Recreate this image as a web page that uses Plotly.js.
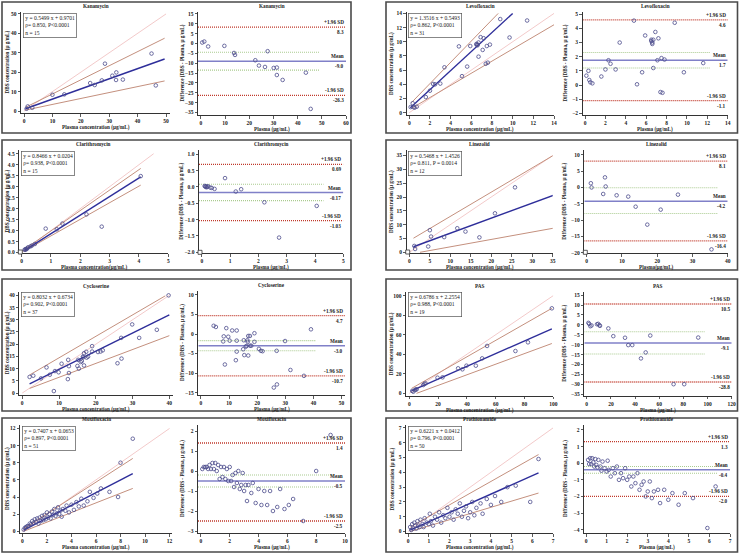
<!DOCTYPE html>
<html><head><meta charset="utf-8">
<script src="https://cdn.plot.ly/plotly-3.0.1.min.js"></script>
<style>html,body{margin:0;padding:0;background:#fff}#chart{width:739px;height:555px}</style>
</head><body><div id="chart"></div>
<script>
// ---------------- DATA ----------------
// Kanamycin
const kanaPlasma = [0.9,1.3,2.9,10.0,14.2,23.3,24.9,27.4,28.5,31.1,32.5,32.4,34.8,44.9,46.4];
const kanaDBS    = [1.2,2.4,1.7,8.4,8.6,14.4,13.4,15.8,24.4,18.2,19.9,16.0,16.2,29.6,13.2];
const kanaFitX = [0.5,49.5], kanaFitY = [1.2,26.8], kanaHi = [1.9,37.5], kanaLo = [0.5,15.5], kanaId = [0,50];
const kanaEq = ["y = 0.5499 x + 0.9701","ρ= 0.850, P&lt;0.0001","n = 15"];
const kanaBAx = [0.55,1.4,3.0,9.7,13.7,14.1,22.5,27.6,24.0,26.5,30.1,31.4,31.4,33.8,43.4,45.4];
const kanaBAy = [0.5,1.0,-1.5,-1.2,-4.8,-5.8,-8.5,-3.9,-11.2,-11.9,-12.4,-12.2,-16.0,-18.5,-14.8,-33.2];
const kanaStats = [8.3,-9.0,-26.3,-4.4,-13.5];
const kanaStatLbl = ["8.3","-9.0","-26.3"];

// Levofloxacin
const levoPlasma = [0.13,0.33,0.42,0.52,0.72,1.6,2.0,2.3,2.5,3.0,3.4,4.8,5.1,5.6,5.9,6.5,6.6,6.6,6.7,6.7,6.9,7.1,7.2,7.4,7.6,7.5,7.8,8.8,9.7,11.4,6.5];
const levoDBS    = [0.79,1.33,0.77,0.71,0.84,2.2,3.1,4.05,4.0,4.1,6.4,9.35,5.15,6.5,9.4,9.7,9.6,9.5,9.9,7.9,10.65,8.85,10.5,6.9,7.05,9.4,9.6,13.2,10.6,13.0,9.6];
const levoFitX = [0.1,10.0], levoFitY = [0.7,14.0];
const levoHiX = [0.2,8.6], levoHi = [1.4,14.0], levoLoX = [0.2,14.0], levoLo = [0.6,12.4], levoId = [0,14];
const levoEq = ["y = 1.3516 x + 0.5493","ρ= 0.862, P&lt;0.0001","n = 31"];
const levoBAx = [0.13,0.33,0.42,0.52,0.72,1.6,2.0,2.3,2.5,3.0,3.4,4.8,5.1,5.6,5.9,6.5,6.6,6.6,6.7,6.7,6.9,7.1,7.2,7.4,7.6,7.5,7.8,8.8,9.7,11.6,6.5];
const levoBAy = [0.66,1.0,0.35,0.19,0.12,0.6,1.1,1.75,1.5,1.1,3.0,4.55,0.05,0.9,3.5,3.2,3.0,2.9,3.2,1.2,3.75,1.75,3.3,-0.5,-0.55,1.9,1.8,4.4,0.9,1.55,3.1];
const levoStats = [4.6,1.75,-1.1,2.3,1.2];
const levoStatLbl = ["4.6","1.7","-1.1"];

// Clarithromycin
const clarPlasma = [0.1,0.12,0.14,0.16,0.19,0.22,0.3,0.45,0.82,1.2,1.39,2.21,2.73,4.06,0.35];
const clarDBS    = [0.13,0.13,0.16,0.15,0.19,0.24,0.28,0.39,1.09,1.06,1.32,1.74,1.18,3.48,0.32];
const clarFitX = [0.1,4.06], clarFitY = [0.1,3.45], clarHi = [0.15,3.83], clarLo = [0.08,3.07], clarId = [0,4.5];
const clarEq = ["y = 0.8466 x + 0.0204","ρ= 0.938, P&lt;0.0001","n = 15"];
const clarBAx = [0.1,0.12,0.14,0.16,0.19,0.22,0.3,0.45,0.82,1.2,1.39,2.21,2.73,4.06,0.35];
const clarBAy = [0.03,0.01,0.02,-0.01,0.0,0.02,-0.02,-0.06,0.27,-0.14,-0.07,-0.47,-1.55,-0.58,-0.03];
const clarStats = [0.69,-0.17,-1.03,0.08,-0.42];
const clarStatLbl = ["0.69","-0.17","-1.03"];

// Linezolid
const linzPlasma = [1.2,1.4,4.6,5.0,5.3,8.5,11.7,13.7,17.1,20.9,25.8,35.1];
const linzDBS    = [2.3,1.2,2.1,8.0,5.7,5.5,8.7,7.5,5.4,14.1,23.5,15.6];
const linzFitX = [1.0,35.1], linzFitY = [2.0,20.6];
const linzHiX = [1.0,35.1], linzHi = [5.1,35.0], linzLoX = [2.6,35.1], linzLo = [0.0,8.7], linzId = [0,35];
const linzEq = ["y = 0.5468 x + 1.4526","ρ= 0.811, P = 0.0014","n = 12"];
const linzBAx = [1.2,1.4,4.7,5.2,5.4,8.5,11.8,13.9,17.2,21.0,25.9,35.4];
const linzBAy = [1.3,0.0,-2.0,3.1,0.3,-2.4,-2.8,-5.9,-11.4,-6.8,-2.2,-19.0];
const linzStats = [8.1,-4.2,-16.4,-0.1,-8.0];
const linzStatLbl = ["8.1","-4.2","-16.4"];

// Cycloserine
const cycPlasma = [2.0,3.0,6.6,7.5,8.9,5.1,9.9,10.7,12.5,12.7,12.7,12.4,8.6,15.0,15.4,15.9,16.2,16.5,16.6,16.8,16.8,17.4,17.5,17.9,19.0,19.0,20.6,21.3,21.9,26.9,29.9,31.8,36.6,39.8,25.9,27.0,15.2];
const cycDBS    = [6.6,7.1,10.5,7.5,9.0,6.0,8.5,12.0,13.6,11.0,8.2,5.7,0.8,11.1,10.0,12.7,13.1,14.9,14.6,11.3,16.3,16.9,14.5,14.9,17.0,19.2,16.8,17.0,17.5,22.6,28.1,22.6,25.9,40.0,12.2,14.1,13.6];
const cycFitX = [2.0,40.0], cycFitY = [3.8,32.0];
const cycHiX = [2.0,38.9], cycHi = [7.4,39.8], cycLoX = [2.0,40.0], cycLo = [1.9,23.5], cycId = [0,40];
const cycEq = ["y = 0.8032 x + 0.6734","ρ= 0.902, P&lt;0.0001","n = 37"];
const cycBAx = [4.5,5.3,9.0,8.1,9.7,7.9,10.2,11.1,12.7,12.7,12.7,12.4,8.5,15.0,15.4,15.9,16.2,16.5,16.6,16.8,16.8,17.4,17.5,17.9,19.0,19.0,20.6,21.3,21.9,26.9,29.9,31.8,36.6,39.1,25.9,27.0,15.2];
const cycBAy = [2.1,1.8,1.5,-0.6,-0.7,-1.9,-1.7,0.9,0.9,-1.7,-4.5,-6.7,-7.8,-3.9,-5.4,-3.2,-3.1,-1.6,-2.0,-5.5,-0.5,-0.5,-3.0,-3.0,-2.0,0.2,-3.8,-4.3,-4.4,-4.3,-1.8,-9.2,-10.7,1.2,-13.7,-12.9,-1.6];
const cycStats = [4.7,-3.0,-10.7,-1.7,-4.3];
const cycStatLbl = ["4.7","-3.0","-10.7"];

// PAS
const pasPlasma = [2.0,2.8,3.9,4.5,5.1,9.7,10.5,11.3,19.6,23.1,33.9,36.9,39.7,46.2,50.6,54.0,73.7,82.4,99.0];
const pasDBS    = [2.5,1.7,3.4,4.0,4.1,8.5,9.8,10.2,16.0,16.4,25.6,24.6,28.3,28.3,35.8,48.5,43.3,52.2,87.0];
const pasFitX = [1.5,99.0], pasFitY = [2.5,66.0];
const pasHiX = [1.6,99.0], pasHi = [5.1,87.0], pasLoX = [5.0,99.0], pasLo = [0.0,51.0], pasId = [0,100];
const pasEq = ["y = 0.6786 x + 2.2554","ρ= 0.988, P&lt;0.0001","n = 19"];
const pasBAx = [1.4,2.0,3.0,4.0,8.5,9.5,10.5,11.0,17.9,22.0,31.7,34.4,37.7,44.9,48.8,52.6,71.9,80.7,92.3];
const pasBAy = [1.0,0.5,-0.7,-0.3,0.3,0.5,-0.2,-0.5,-1.8,-5.7,-6.5,-10.2,-10.2,-16.9,-13.9,-5.4,-29.9,-29.9,-6.4];
const pasStats = [10.5,-9.1,-28.8,-3.5,-14.7];
const pasStatLbl = ["10.5","-9.1","-28.8"];

// Moxifloxacin
const moxPlasma = [0.1,0.2,0.3,0.4,0.5,0.6,0.7,0.8,0.9,1.0,1.1,1.2,1.3,1.4,1.5,1.6,1.7,1.8,1.9,2.0,2.1,2.2,2.3,2.4,2.5,2.6,2.7,2.8,2.9,3.0,3.1,3.2,3.3,3.5,3.6,3.8,4.0,4.2,4.4,4.6,4.8,5.0,5.3,5.5,5.8,6.1,6.4,7.1,7.8,8.0,9.0];
const moxDBS    = [0.2,0.4,0.5,0.6,0.6,0.9,0.8,1.2,1.0,1.4,1.1,1.5,0.9,1.6,1.2,1.8,1.3,1.9,1.4,2.2,1.6,2.0,1.5,2.3,1.9,2.6,1.8,2.1,2.8,2.0,2.4,1.7,2.6,2.4,3.0,2.2,3.1,2.5,3.4,2.9,3.8,3.0,3.5,4.6,3.9,4.4,5.0,4.6,4.0,8.0,10.8];
const moxFitX = [0.1,9.0], moxFitY = [0.14,6.73];
const moxHiX = [0.1,9.0], moxHi = [0.3,8.5], moxLoX = [0.1,9.0], moxLo = [0.0,5.0], moxId = [0,12];
const moxEq = ["y = 0.7407 x + 0.0653","ρ= 0.897, P&lt;0.0001","n = 51"];
const moxBAx = [0.1,0.2,0.3,0.4,0.5,0.6,0.7,0.8,0.9,1.0,1.1,1.2,1.3,1.4,1.5,1.6,1.7,1.8,1.9,2.0,2.1,2.2,2.3,2.4,2.5,2.6,2.7,2.8,2.9,3.0,3.1,3.2,3.3,3.5,3.6,3.8,4.0,4.2,4.4,4.6,4.8,5.0,5.3,5.5,5.8,6.1,6.4,7.1,7.8,8.0,9.0];
const moxBAy = [0.1,0.2,0.2,0.2,0.1,0.3,0.1,0.4,0.1,0.4,0.0,0.3,-0.4,0.2,-0.3,0.2,-0.4,0.1,-0.5,0.2,-0.5,-0.2,-0.8,-0.1,-0.6,0.0,-0.9,-0.7,-0.1,-1.0,-0.7,-1.5,-0.7,-1.1,-0.6,-1.6,-0.9,-1.7,-1.0,-1.7,-1.0,-2.0,-1.8,-0.9,-1.9,-1.7,-1.4,-2.5,-3.8,0.0,1.8];
const moxStats = [1.4,-0.5,-2.5,-0.2,-0.8];
const moxStatLbl = ["1.4","-0.5","-2.5"];

// Prothionamide
const proPlasma = [0.1,0.15,0.2,0.25,0.3,0.35,0.4,0.45,0.5,0.55,0.6,0.7,0.75,0.8,0.9,1.0,1.05,1.1,1.2,1.3,1.4,1.5,1.6,1.7,1.8,1.9,2.0,2.1,2.2,2.3,2.4,2.5,2.6,2.7,2.8,2.9,3.0,3.1,3.2,3.3,3.5,3.6,3.8,4.0,4.2,4.5,4.8,5.2,5.9,6.3];
const proDBS    = [0.3,0.1,0.5,0.2,0.6,0.4,0.2,0.7,0.4,0.3,0.8,0.5,0.3,0.9,0.6,0.5,1.2,0.7,0.4,1.0,0.8,1.3,0.6,1.1,0.9,1.6,1.0,1.3,0.8,1.5,1.2,1.9,1.0,1.4,1.7,0.9,1.3,2.0,1.1,1.6,1.9,1.2,2.2,1.8,2.4,2.0,3.0,3.1,2.0,4.9];
const proFitX = [0.1,6.3], proFitY = [0.1,3.96];
const proHiX = [0.1,6.3], proHi = [0.3,5.2], proLoX = [0.1,6.3], proLo = [0.0,2.6], proId = [0,7];
const proEq = ["y = 0.6221 x + 0.0412","ρ= 0.796, P&lt;0.0001","n = 50"];
const proBAx = [0.1,0.15,0.2,0.25,0.3,0.35,0.4,0.45,0.5,0.55,0.6,0.7,0.75,0.8,0.9,1.0,1.05,1.1,1.2,1.3,1.4,1.5,1.6,1.7,1.8,1.9,2.0,2.1,2.2,2.3,2.4,2.5,2.6,2.7,2.8,2.9,3.0,3.1,3.2,3.3,3.5,3.6,3.8,4.0,4.2,4.5,4.8,5.2,5.9,6.3];
const proBAy = [0.2,-0.05,0.3,-0.05,0.3,0.05,-0.2,0.25,-0.1,-0.25,0.2,-0.2,-0.45,0.1,-0.3,-0.5,0.15,-0.4,-0.8,-0.3,-0.6,-0.2,-1.0,-0.6,-0.9,-0.3,-1.0,-0.8,-1.4,-0.8,-1.2,-0.6,-1.6,-1.3,-1.1,-2.0,-1.7,-1.1,-2.1,-1.7,-1.6,-2.4,-1.6,-2.2,-1.8,-2.5,-1.8,-2.1,-3.9,-1.4];
const proStats = [1.3,-0.4,-2.0,-0.2,-0.6];
const proStatLbl = ["1.3","-0.4","-2.0"];

// ---------------- LAYOUT / DRAW ----------------
const W = 739, H = 555;
const FONT = 'Liberation Serif, Times New Roman, serif';
const REGX = 'Plasma concentration (μg/mL)', REGY = 'DBS concentration (μ g/mL)';
const BAX = 'Plasma (μg/mL)', BAY = 'Difference (DBS - Plasma, μ g/mL)';

const panels = [
 {k:'reg', t:'Kanamycin', x:kanaPlasma, y:kanaDBS, fx:kanaFitX, fy:kanaFitY, hx:kanaFitX, hi:kanaHi, lx:kanaFitX, lo:kanaLo, id:kanaId, eq:kanaEq,
  box:[21,170,12,113], xr:[-1.06,51.4], yr:[-1,51], xd:10, yd:10, xt:REGX, ytx:7},
 {k:'ba', t:'Kanamycin', x:kanaBAx, y:kanaBAy, st:kanaStats, sl:kanaStatLbl, gEnd:49,
  box:[198,346,12,115], xr:[-1.2,60], yr:[-36.3,16], xd:10, yd:5, xt:BAX, ytx:182},
 {k:'reg', t:'Levofloxacin', x:levoPlasma, y:levoDBS, fx:levoFitX, fy:levoFitY, hx:levoHiX, hi:levoHi, lx:levoLoX, lo:levoLo, id:levoId, eq:levoEq,
  box:[406.7,554,12,115], xr:[-0.25,14], yr:[-0.33,14.2], xd:2, yd:2, xt:REGX, ytx:391.5},
 {k:'ba', t:'Levofloxacin', x:levoBAx, y:levoBAy, st:levoStats, sl:levoStatLbl, gEnd:12.3,
  box:[582.7,727.7,12,115], xr:[-0.23,14], yr:[-2.12,5.16], xd:2, yd:1, xt:BAX, ytx:565},

 {k:'reg', t:'Clarithromycin', x:clarPlasma, y:clarDBS, fx:clarFitX, fy:clarFitY, hx:clarFitX, hi:clarHi, lx:clarFitX, lo:clarLo, id:clarId, eq:clarEq,
  box:[19.3,168.3,150,253], xr:[-0.08,5], yr:[-0.02,4.67], xd:1, yd:0.5, yf:'.1f', xt:'Plasma concentration(μg/mL)', ytx:7, sq:true},
 {k:'ba', t:'Clarithromycin', x:clarBAx, y:clarBAy, st:clarStats, sl:clarStatLbl, gEnd:4.3,
  box:[199,343.3,150,253.3], xr:[-0.1,5], yr:[-2.03,1.13], xd:1, yd:0.5, yf:'.1f', xt:BAX, ytx:182, sq:true},
 {k:'reg', t:'Linezolid', x:linzPlasma, y:linzDBS, fx:linzFitX, fy:linzFitY, hx:linzHiX, hi:linzHi, lx:linzLoX, lo:linzLo, id:linzId, eq:linzEq,
  box:[406.7,552.7,150,253], xr:[-0.65,35], yr:[-0.25,37], xd:5, yd:5, xt:REGX, ytx:391.5, sq:true},
 {k:'ba', t:'Linezolid', x:linzBAx, y:linzBAy, st:linzStats, sl:linzStatLbl, gEnd:37.3,
  box:[584.3,727.7,150,253.3], xr:[-0.66,40], yr:[-20.2,11.5], xd:10, yd:5, xt:'Plasma(μg/mL)', ytx:565, sq:true},

 {k:'reg', t:'Cycloserine', x:cycPlasma, y:cycDBS, fx:cycFitX, fy:cycFitY, hx:cycHiX, hi:cycHi, lx:cycLoX, lo:cycLo, id:cycId, eq:cycEq,
  box:[19.3,173,291.7,395], xr:[-0.8,41], yr:[-0.8,41.5], xd:10, yd:5, xt:REGX, ytx:7},
 {k:'ba', t:'Cycloserine', x:cycBAx, y:cycBAy, st:cycStats, sl:cycStatLbl, gEnd:41,
  box:[198.3,345,291,395], xr:[-0.95,51.2], yr:[-15.6,11], xd:10, yd:5, xt:'Plasma (μg/mL)', ytx:182},
 {k:'reg', t:'PAS', x:pasPlasma, y:pasDBS, fx:pasFitX, fy:pasFitY, hx:pasHiX, hi:pasHi, lx:pasLoX, lo:pasLo, id:pasId, eq:pasEq,
  box:[406,553.3,291.7,395.7], xr:[-2.3,100], yr:[-2.4,104], xd:20, yd:20, xt:REGX, ytx:391.5},
 {k:'ba', t:'PAS', x:pasBAx, y:pasBAy, st:pasStats, sl:pasStatLbl, gEnd:97.8,
  box:[584.3,731.7,291.7,395.7], xr:[-2,120], yr:[-35.7,16.7], xd:20, yd:5, xt:BAX, ytx:565},

 {k:'reg', t:'Moxifloxacin', x:moxPlasma, y:moxDBS, fx:moxFitX, fy:moxFitY, hx:moxHiX, hi:moxHi, lx:moxLoX, lo:moxLo, id:moxId, eq:moxEq,
  box:[20,172,425,533], xr:[-0.2,12.2], yr:[-0.2,12.4], xd:2, yd:2, xt:REGX, ytx:7},
 {k:'ba', t:'Moxifloxacin', x:moxBAx, y:moxBAy, st:moxStats, sl:moxStatLbl, gEnd:9.2,
  box:[198,345,425,533], xr:[-0.2,10], yr:[-3.1,2.3], xd:2, yd:1, xt:BAX, ytx:182},
 {k:'reg', t:'Prothionamide', x:proPlasma, y:proDBS, fx:proFitX, fy:proFitY, hx:proHiX, hi:proHi, lx:proLoX, lo:proLo, id:proId, eq:proEq,
  box:[406,553,425,533], xr:[-0.1,7], yr:[-0.1,7.2], xd:1, yd:1, xt:REGX, ytx:391.5},
 {k:'ba', t:'Prothionamide', x:proBAx, y:proBAy, st:proStats, sl:proStatLbl, gEnd:6.4,
  box:[584,730,425,533], xr:[-0.1,7], yr:[-4.2,2.3], xd:1, yd:1, xt:BAX, ytx:565}
];

const frames = [[2,351,2,133],[386,737.5,2,133],[2,351,140,270],[386,737.5,140,270],
                [2,351,279,411],[386,737.5,279,411],[2,351,418,552],[386,737.5,418,552]];

const axisStyle = {
  showline:true, linecolor:'#333', linewidth:1, ticks:'outside', ticklen:2.5, tickwidth:0.8, tickcolor:'#333',
  showgrid:false, zeroline:false, fixedrange:true,
  tickfont:{family:FONT, size:5.5, color:'#222', weight:'bold'}
};

const traces = [];
const layout = {
  width:W, height:H, margin:{l:0,r:0,t:0,b:0}, paper_bgcolor:'#fff', plot_bgcolor:'rgba(0,0,0,0)',
  showlegend:false, shapes:[], annotations:[]
};
const lbl = (txt, x, y, o) => Object.assign({text:txt, x:x, y:y, xref:'paper', yref:'paper', showarrow:false,
  font:{family:FONT, size:5.2, color:'#222', weight:'bold'}}, o||{});

frames.forEach(f => layout.shapes.push({type:'rect', xref:'paper', yref:'paper', x0:f[0]/W, x1:f[1]/W, y0:1-f[3]/H, y1:1-f[2]/H,
  line:{color:'#4a4a4a', width:1.6}, fillcolor:'rgba(0,0,0,0)'}));

panels.forEach((p,i) => {
  const n = i+1, s = n===1 ? '' : String(n);
  const xa = 'x'+s, ya = 'y'+s;
  const [l,r,t,b] = p.box;
  layout['xaxis'+s] = Object.assign({}, axisStyle, {domain:[l/W, r/W], range:p.xr, dtick:p.xd, tick0:0, anchor:ya, tickformat:p.xf||''});
  layout['yaxis'+s] = Object.assign({}, axisStyle, {domain:[1-b/H, 1-t/H], range:p.yr, dtick:p.yd, tick0:0, anchor:xa, tickformat:p.yf||''});
  const ln = (x,y,color,width,dash) => traces.push({type:'scatter', mode:'lines', x:x, y:y, xaxis:xa, yaxis:ya,
      line:{color:color, width:width, dash:dash||'solid'}, hoverinfo:'skip'});
  if (p.k === 'reg') {
    ln(p.id, p.id, '#f3caca', 1);
    ln(p.hx, p.hi, '#c4907e', 1);
    ln(p.lx, p.lo, '#c4907e', 1);
    ln(p.fx, p.fy, '#2e2e9a', 1.4);
    layout.annotations.push({text:p.eq.join('<br>'), xref:'paper', yref:'paper', x:(l+1.5)/W, y:1-(t+0.5)/H,
      xanchor:'left', yanchor:'top', align:'left', showarrow:false, bgcolor:'#fff', bordercolor:'#555', borderwidth:0.7, borderpad:1.5,
      font:{family:FONT, size:5.6, color:'#222'}});
  } else {
    const [up, mean, low, gh, gl] = p.st;
    ln([p.xr[0], p.xr[1]], [up,up], '#c0392b', 1.3, '1px,1px');
    ln([p.xr[0], p.xr[1]], [low,low], '#c0392b', 1.3, '1px,1px');
    ln([p.xr[0], p.gEnd], [gh,gh], '#aacb90', 1.1, '1px,1px');
    ln([p.xr[0], p.gEnd], [gl,gl], '#aacb90', 1.1, '1px,1px');
    ln([p.xr[0], p.xr[1]], [mean,mean], '#8080c8', 1.5);
    const lab = (txt, yv, anc) => layout.annotations.push({text:txt, xref:'paper', yref:ya, x:r/W, y:yv,
      xanchor:'right', yanchor:anc, showarrow:false, font:{family:FONT, size:5.2, color:'#222', weight:'bold'}});
    lab('+1.96 SD', up, 'bottom'); lab(p.sl[0], up, 'top');
    lab('Mean', mean, 'bottom');   lab(p.sl[1], mean, 'top');
    lab('-1.96 SD', low, 'bottom'); lab(p.sl[2], low, 'top');
  }
  traces.push({type:'scatter', mode:'markers', x:p.x, y:p.y, xaxis:xa, yaxis:ya, hoverinfo:'skip', cliponaxis:false,
    marker:{symbol:'circle-open', size:3.6, color:'#4b4b8c', line:{width:0.8, color:'#4b4b8c'}}});
  if (p.sq) layout.shapes.push({type:'rect', xref:'paper', yref:'paper', x0:(l-1)/W, x1:(l+3)/W, y0:1-(b+1)/H, y1:1-(b-3)/H,
      line:{color:'#333', width:0.8}, fillcolor:'#fff'});
  layout.annotations.push(lbl(p.t, (l+r)/2/W, 1-(t-6)/H, {xanchor:'center', yanchor:'middle'}));
  layout.annotations.push(lbl(p.xt, (l+r)/2/W, 1-(b+14.5)/H, {xanchor:'center', yanchor:'middle'}));
  layout.annotations.push(lbl(p.k==='reg'?REGY:BAY, p.ytx/W, 1-(t+b)/2/H, {xanchor:'center', yanchor:'middle', textangle:-90}));
});

Plotly.newPlot('chart', traces, layout, {staticPlot:true, displayModeBar:false});
</script></body></html>
